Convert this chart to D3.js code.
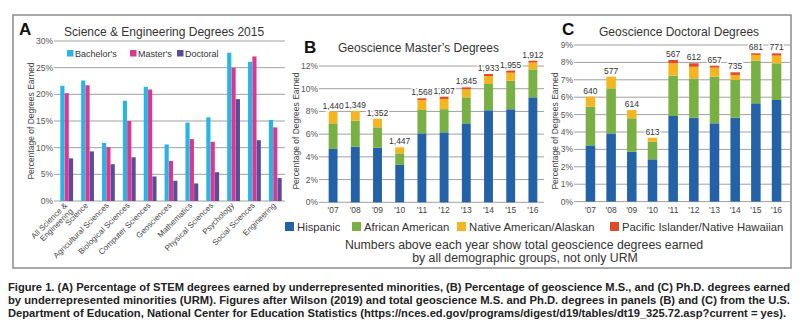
<!DOCTYPE html>
<html>
<head>
<meta charset="utf-8">
<script src="https://cdn.jsdelivr.net/npm/d3@7"></script>
<style>
  body { margin: 0; background: #fff; }
  svg text { font-family: "Liberation Sans", Arial, sans-serif; }
</style>
</head>
<body>
<svg id="fig" width="800" height="328"></svg>
<script>
// Panel A - S&E degrees earned by URM, 2015
const fields = ["All Science & Engineering", "Science", "Agricultural Sciences", "Biological Sciences",
  "Computer Sciences", "Geosciences", "Mathematics", "Physical Sciences", "Psychology",
  "Social Sciences", "Engineering"];
const degreeTypes = ["Bachelor's", "Master's", "Doctoral"];
const bachelors = [21.6, 22.6, 10.9, 18.8, 21.4, 10.6, 14.7, 15.7, 27.8, 26.1, 15.2];
const masters   = [20.2, 21.7, 10.1, 15.0, 20.9, 7.5, 11.6, 11.1, 25.0, 27.1, 13.8];
const doctoral  = [8.0, 9.3, 6.9, 8.2, 4.6, 3.8, 3.3, 5.4, 19.1, 11.4, 4.3];

// Panels B and C - geoscience degrees by group (segment values, %)
const years = ["'07", "'08", "'09", "'10", "'11", "'12", "'13", "'14", "'15", "'16"];
const groups = ["Hispanic", "African American", "Native American/Alaskan", "Pacific Islander/Native Hawaiian"];

const msHispanic = [4.7, 4.9, 4.81, 3.29, 6.07, 6.16, 6.95, 8.1, 8.19, 9.24];
const msAfrican  = [2.25, 2.29, 1.79, 1.02, 2.06, 2.04, 2.29, 2.32, 2.51, 2.46];
const msNative   = [1.03, 0.85, 0.76, 0.53, 0.87, 0.9, 0.71, 0.7, 0.71, 0.6];
const msPacific  = [0, 0, 0, 0, 0.15, 0.2, 0.17, 0.18, 0.19, 0.17];
const msTotals   = [1440, 1349, 1352, 1447, 1568, 1807, 1845, 1933, 1955, 1912];

const phdHispanic = [3.23, 3.92, 2.87, 2.43, 4.92, 4.82, 4.5, 4.82, 5.65, 5.84];
const phdAfrican  = [2.23, 2.59, 1.92, 1.01, 2.32, 2.26, 2.68, 2.17, 2.45, 2.11];
const phdNative   = [0.57, 0.67, 0.47, 0.23, 0.71, 0.67, 0.52, 0.29, 0.33, 0.44];
const phdPacific  = [0, 0, 0, 0, 0.19, 0.2, 0.11, 0.15, 0.09, 0.13];
const phdTotals   = [640, 577, 614, 613, 567, 612, 657, 735, 681, 771];

const degreeColors = ["#27b5e6", "#d9388f", "#5b4b9d"];
const groupColors = ["#2462a8", "#78b043", "#f5b520", "#e04a26"];
const textColor = "#333";
const gridColor = "#a0a0a0";

const svg = d3.select("#fig");

// outer frame
svg.append("rect")
  .attr("x", 13).attr("y", 15)
  .attr("width", 778).attr("height", 253)
  .attr("fill", "none")
  .attr("stroke", "#8a8a8a")
  .attr("stroke-width", 1.5);

function yAxisGrid(g, y, ticks, x0, x1, fmt) {
  ticks.forEach(t => {
    g.append("line")
      .attr("x1", x0 - 3).attr("x2", x1)
      .attr("y1", y(t)).attr("y2", y(t))
      .attr("stroke", gridColor).attr("stroke-width", 1);
    g.append("text")
      .attr("x", x0 - 4).attr("y", y(t) + 3)
      .attr("text-anchor", "end")
      .attr("font-size", 8.5)
      .attr("fill", "#555")
      .text(fmt(t));
  });
}

function panelLetter(x, y, letter) {
  svg.append("text")
    .attr("x", x).attr("y", y)
    .attr("font-size", 17).attr("font-weight", "bold")
    .attr("fill", "#111")
    .text(letter);
}

function panelTitle(x, y, txt) {
  svg.append("text")
    .attr("x", x).attr("y", y)
    .attr("font-size", 12)
    .attr("fill", textColor)
    .text(txt);
}

function yTitle(x, y) {
  svg.append("text")
    .attr("transform", `translate(${x},${y}) rotate(-90)`)
    .attr("text-anchor", "middle")
    .attr("font-size", 8.5)
    .attr("fill", "#444")
    .text("Percentage of Degrees Earned");
}

// ---------- Panel A ----------
const gA = svg.append("g");
const xA = d3.scaleBand().domain(fields).range([57, 285]).paddingInner(0.37).paddingOuter(0.15);
const xSub = d3.scaleBand().domain(degreeTypes).range([0, xA.bandwidth()]).padding(0.04);
const yA = d3.scaleLinear().domain([0, 30]).range([201, 41]);

yAxisGrid(gA, yA, [0, 5, 10, 15, 20, 25, 30], 57, 285, d => d + "%");

const seriesA = [bachelors, masters, doctoral];
seriesA.forEach((vals, si) => {
  gA.selectAll(null)
    .data(fields)
    .enter()
    .append("rect")
    .attr("x", d => xA(d) + xSub(degreeTypes[si]))
    .attr("width", xSub.bandwidth())
    .attr("y", (d, i) => yA(vals[i]))
    .attr("height", (d, i) => yA(0) - yA(vals[i]))
    .attr("fill", degreeColors[si]);
});

// rotated category labels
fields.forEach(f => {
  const cx = xA(f) + xA.bandwidth() / 2 + 1;
  const t = gA.append("text")
    .attr("transform", `translate(${cx},206) rotate(-45)`)
    .attr("text-anchor", "end")
    .attr("font-size", 8)
    .attr("fill", "#444");
  if (f === "All Science & Engineering") {
    t.append("tspan").attr("x", 0).attr("dy", 0).text("All Science &");
    t.append("tspan").attr("x", 0).attr("dy", "1em").text("Engineering");
  } else {
    t.text(f);
  }
});

// legend A
const legA = [67, 130, 177];
degreeTypes.forEach((d, i) => {
  gA.append("rect")
    .attr("x", legA[i]).attr("y", 50)
    .attr("width", 6.5).attr("height", 6.5)
    .attr("fill", degreeColors[i]);
  gA.append("text")
    .attr("x", legA[i] + 8).attr("y", 57)
    .attr("font-size", 9)
    .attr("fill", textColor)
    .text(d);
});

panelLetter(19, 35, "A");
panelTitle(64, 36, "Science & Engineering Degrees 2015");
yTitle(34, 121);

// ---------- Panels B and C (stacked) ----------
function stackedPanel(opts) {
  const g = svg.append("g");
  const x = d3.scaleBand().domain(years).range(opts.xRange)
    .paddingInner(opts.padIn).paddingOuter(opts.padOut);
  const y = d3.scaleLinear().domain([0, opts.yMax]).range([opts.y0, opts.yTop]);

  yAxisGrid(g, y, d3.range(0, opts.yMax + 1, opts.step), opts.xRange[0], opts.xRange[1], d => d + "%");

  const rows = years.map((yr, i) => ({
    year: yr,
    Hispanic: opts.series[0][i],
    "African American": opts.series[1][i],
    "Native American/Alaskan": opts.series[2][i],
    "Pacific Islander/Native Hawaiian": opts.series[3][i]
  }));
  const stacked = d3.stack().keys(groups)(rows);

  g.selectAll(".layer")
    .data(stacked)
    .enter()
    .append("g")
    .attr("fill", (d, i) => groupColors[i])
    .selectAll("rect")
    .data(d => d)
    .enter()
    .append("rect")
    .attr("x", d => x(d.data.year))
    .attr("width", x.bandwidth())
    .attr("y", d => y(d[1]))
    .attr("height", d => y(d[0]) - y(d[1]));

  // totals above bars, knocked out of gridlines
  const top = stacked[stacked.length - 1];
  g.selectAll(".total")
    .data(years)
    .enter()
    .append("text")
    .attr("x", d => x(d) + x.bandwidth() / 2)
    .attr("y", (d, i) => y(top[i][1]) - 3)
    .attr("text-anchor", "middle")
    .attr("font-size", 8.5)
    .attr("fill", textColor)
    .attr("stroke", "#fff")
    .attr("stroke-width", 3)
    .attr("paint-order", "stroke")
    .text((d, i) => opts.fmtTotal(opts.totals[i]));

  // year labels
  g.selectAll(".yr")
    .data(years)
    .enter()
    .append("text")
    .attr("x", d => x(d) + x.bandwidth() / 2)
    .attr("y", 213)
    .attr("text-anchor", "middle")
    .attr("font-size", 8.5)
    .attr("fill", "#444")
    .text(d => d);
}

stackedPanel({
  xRange: [322, 544], padIn: 0.6, padOut: 0.3,
  yMax: 12, step: 2, y0: 202.3, yTop: 66,
  series: [msHispanic, msAfrican, msNative, msPacific],
  totals: msTotals, fmtTotal: d3.format(",")
});
panelLetter(304, 53, "B");
panelTitle(338, 52, "Geoscience Master\u2019s Degrees");
yTitle(299, 131);

stackedPanel({
  xRange: [577, 790], padIn: 0.54, padOut: 0.42,
  yMax: 9, step: 1, y0: 201.6, yTop: 45,
  series: [phdHispanic, phdAfrican, phdNative, phdPacific],
  totals: phdTotals, fmtTotal: d3.format("d")
});
panelLetter(562, 35, "C");
panelTitle(599, 36, "Geoscience Doctoral Degrees");
yTitle(558, 131);

// shared legend for B and C
const legX = [285, 352, 457, 610];
groups.forEach((d, i) => {
  svg.append("rect")
    .attr("x", legX[i]).attr("y", 222)
    .attr("width", 9).attr("height", 9)
    .attr("fill", groupColors[i]);
  svg.append("text")
    .attr("x", legX[i] + 12).attr("y", 231)
    .attr("font-size", 11.3)
    .attr("fill", textColor)
    .text(d);
});

svg.append("text")
  .attr("x", 524).attr("y", 249)
  .attr("text-anchor", "middle")
  .attr("font-size", 12.3)
  .attr("fill", textColor)
  .text("Numbers above each year show total geoscience degrees earned");
svg.append("text")
  .attr("x", 525).attr("y", 262)
  .attr("text-anchor", "middle")
  .attr("font-size", 12.3)
  .attr("fill", textColor)
  .text("by all demographic groups, not only URM");

// caption
const captionLines = [
  "Figure 1. (A) Percentage of STEM degrees earned by underrepresented minorities, (B) Percentage of geoscience M.S., and (C) Ph.D. degrees earned",
  "by underrepresented minorities (URM). Figures after Wilson (2019) and total geoscience M.S. and Ph.D. degrees in panels (B) and (C) from the U.S.",
  "Department of Education, National Center for Education Statistics (https://nces.ed.gov/programs/digest/d19/tables/dt19_325.72.asp?current = yes)."
];
const captionEnds = [790, 790, 786];
captionLines.forEach((line, i) => {
  svg.append("text")
    .attr("x", 8).attr("y", 291 + i * 13)
    .attr("font-size", 10.5)
    .attr("font-weight", "bold")
    .attr("fill", "#222")
    .style("font-family", "'Liberation Sans Narrow', 'Liberation Sans', Arial, sans-serif")
    .attr("textLength", captionEnds[i] - 8)
    .attr("lengthAdjust", "spacingAndGlyphs")
    .text(line);
});
</script>
</body>
</html>
